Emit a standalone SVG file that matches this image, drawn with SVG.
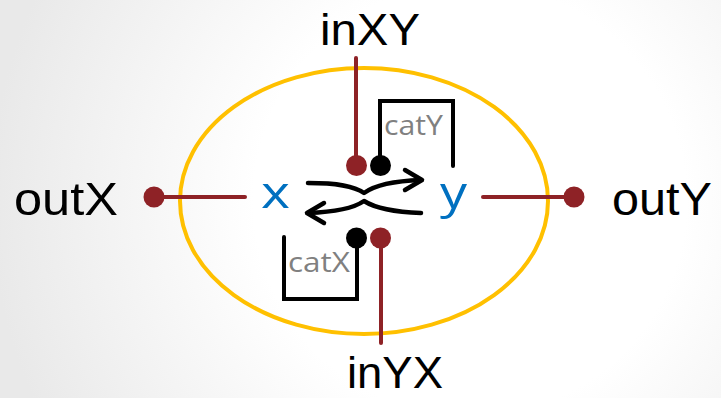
<svg xmlns="http://www.w3.org/2000/svg" width="721" height="398" viewBox="0 0 721 398">
<defs>
<radialGradient id="bg" cx="470" cy="200" r="480" gradientUnits="userSpaceOnUse">
<stop offset="0.45" stop-color="#ffffff"/>
<stop offset="1" stop-color="#e9e9e9"/>
</radialGradient>
<style>
.lbl{font-family:"Liberation Sans",Arial,sans-serif;fill:#000}
.var{font-family:"Open Sans","Liberation Sans",sans-serif;fill:#0070C0}
.cat{font-family:"Open Sans","Liberation Sans",sans-serif;fill:#808080}
.red{stroke:#8E2226;stroke-width:4;fill:none;stroke-linecap:round}
.blk{stroke:#000;stroke-width:4;fill:none;stroke-linecap:round;stroke-linejoin:miter}
.arr{stroke:#000;stroke-width:4.5;fill:none;stroke-linecap:round;stroke-linejoin:round}
.rdot{fill:#8E2226}
.bdot{fill:#000}
</style>
</defs>
<rect x="0" y="0" width="721" height="398" fill="url(#bg)"/>
<g id="cell">
<ellipse cx="364" cy="201" rx="184" ry="133" fill="none" stroke="#FFC000" stroke-width="4"/>
</g>
<g id="connectors">
<line class="red" x1="356" y1="58" x2="356" y2="165"/>
<line class="red" x1="381" y1="238" x2="381" y2="343"/>
<line class="red" x1="154" y1="197" x2="245" y2="197"/>
<line class="red" x1="483" y1="197" x2="574" y2="197"/>
<polyline class="blk" points="380,165 380,101 453,101 453,166"/>
<polyline class="blk" points="357,238 357,299 284,299 284,237"/>
<path class="arr" d="M308,183 C338,183 354,186 364,193 C375,185 392,181 421,180"/>
<polyline class="arr" points="405,170 422,180 405,190"/>
<path class="arr" d="M421,213 C392,212 375,208 364,201 C354,208 338,212 308,213"/>
<polyline class="arr" points="324,203 307,213 324,223"/>
</g>
<g id="inXY">
<text class="lbl" x="320" y="45" font-size="45" textLength="100" lengthAdjust="spacingAndGlyphs">inXY</text>
</g>
<g id="inYX">
<text class="lbl" x="347" y="388" font-size="45" textLength="96" lengthAdjust="spacingAndGlyphs">inYX</text>
</g>
<g id="outX">
<circle class="rdot" cx="154" cy="197" r="10.5"/>
<text class="lbl" x="14" y="215" font-size="46" textLength="104" lengthAdjust="spacingAndGlyphs">outX</text>
</g>
<g id="outY">
<circle class="rdot" cx="574" cy="197" r="10.5"/>
<text class="lbl" x="612" y="215" font-size="46" textLength="100" lengthAdjust="spacingAndGlyphs">outY</text>
</g>
<g id="x">
<text class="var" x="261" y="208" font-size="44" textLength="29" lengthAdjust="spacingAndGlyphs">x</text>
</g>
<g id="y">
<text class="var" x="440" y="208" font-size="44" textLength="27" lengthAdjust="spacingAndGlyphs">y</text>
</g>
<g id="catY">
<circle class="bdot" cx="380.5" cy="165.5" r="10.5"/>
<circle class="rdot" cx="356.5" cy="165.5" r="10.5"/>
<text class="cat" x="384" y="135" font-size="28" textLength="59" lengthAdjust="spacingAndGlyphs">catY</text>
</g>
<g id="catX">
<circle class="bdot" cx="356.5" cy="238" r="10.5"/>
<circle class="rdot" cx="380.5" cy="238" r="10.5"/>
<text class="cat" x="288" y="272" font-size="27" textLength="62" lengthAdjust="spacingAndGlyphs">catX</text>
</g>
</svg>
